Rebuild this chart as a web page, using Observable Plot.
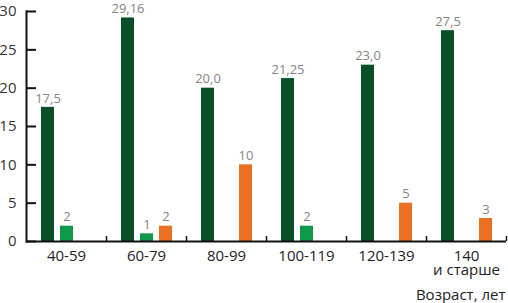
<!DOCTYPE html>
<html>
<head>
<meta charset="utf-8">
<script src="https://cdn.jsdelivr.net/npm/d3@7"></script>
<script src="https://cdn.jsdelivr.net/npm/@observablehq/plot@0.6"></script>
<style>
  html, body { margin: 0; padding: 0; background: #fff; }
  #chart { width: 508px; height: 303px; }
</style>
</head>
<body>
<div id="chart"></div>
<script>
const categories = ["40-59", "60-79", "80-99", "100-119", "120-139", "140\nи старше"];
const seriesKeys = ["s1", "s2", "s3"];
const seriesColors = ["#0a4f28", "#11994a", "#ea7124"];
const s1Values = [17.5, 29.16, 20.0, 21.25, 23.0, 27.5];
const s1Labels = ["17,5", "29,16", "20,0", "21,25", "23,0", "27,5"];
const s2Values = [2, 1, 0, 2, 0, 0];
const s2Labels = ["2", "1", "", "2", "", ""];
const s3Values = [0, 2, 10, 0, 5, 3];
const s3Labels = ["", "2", "10", "", "5", "3"];
const yTicks = [0, 5, 10, 15, 20, 25, 30];
const xTitle = "Возраст, лет";

const seriesValues = [s1Values, s2Values, s3Values];
const seriesLabels = [s1Labels, s2Labels, s3Labels];
const rows = [];
categories.forEach((c, i) => {
  seriesKeys.forEach((s, j) => {
    const v = seriesValues[j][i];
    if (v > 0) rows.push({cat: c, series: s, value: v, label: seriesLabels[j][i]});
  });
});

const chart = Plot.plot({
  width: 508,
  height: 303,
  marginLeft: 26,
  marginRight: 2,
  marginTop: 11,
  marginBottom: 62,
  style: {fontFamily: "'Open Sans', sans-serif", background: "#fff"},
  fx: {domain: categories, padding: 0},
  x: {domain: seriesKeys, paddingInner: 0.316, paddingOuter: 0.763, axis: null},
  y: {domain: [0, 30], axis: null},
  color: {domain: seriesKeys, range: seriesColors},
  marks: [
    Plot.barY(rows, {fx: "cat", x: "series", y: "value", fill: "series", inset: 0}),
    Plot.text(rows, {fx: "cat", x: "series", y: "value", text: "label", dy: -9, fill: "#858585", fontSize: 13}),
    Plot.ruleY([0], {stroke: "#111", strokeWidth: 2}),
    Plot.frame({anchor: "left", facetAnchor: "left", stroke: "#111", strokeWidth: 2}),
    Plot.axisY({ticks: yTicks, tickSize: -10, text: null, stroke: "#111", strokeWidth: 2, label: null}),
    Plot.axisY({ticks: yTicks, tickSize: 0, tickPadding: 10, fontSize: 15, fill: "#333", label: null}),
    Plot.axisFx({anchor: "bottom", tickSize: -5, text: null, dx: 40, stroke: "#111", strokeWidth: 1.5, label: null}),
    Plot.axisFx({anchor: "bottom", tickSize: 0, tickPadding: 10, fontSize: 15, lineHeight: 0.9, fill: "#222",
      label: xTitle, labelAnchor: "right", labelOffset: 58})
  ]
});
document.getElementById("chart").appendChild(chart);
</script>
</body>
</html>
